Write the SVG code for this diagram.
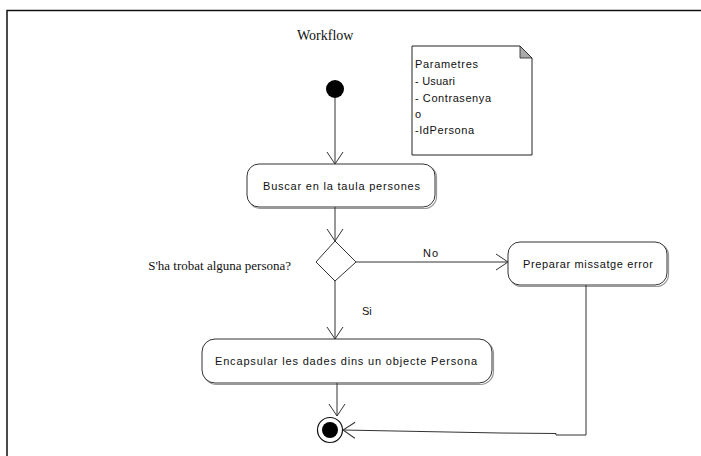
<svg xmlns="http://www.w3.org/2000/svg" width="701" height="456" viewBox="0 0 701 456">
  <style>
    .frame { fill: none; stroke: #111; stroke-width: 1.5; }
    .act { fill: #fff; stroke: #333; stroke-width: 1; }
    .shadow { fill: none; stroke: #999; stroke-width: 1.2; }
    .edge { fill: none; stroke: #333; stroke-width: 1; }
    .lbl { font-family: "Liberation Sans", Arial, sans-serif; font-size: 11px; fill: #111; }
    .ser { font-family: "Liberation Serif", "Times New Roman", serif; fill: #111; }
  </style>
  <defs>
    <marker id="open" viewBox="-14 -10 16 20" markerWidth="16" markerHeight="20" refX="0" refY="0" orient="auto" markerUnits="userSpaceOnUse">
      <path d="M -12 -8 L 0 0 L -12 8" fill="none" stroke="#333" stroke-width="1"/>
    </marker>
  </defs>

  <rect width="701" height="456" fill="#fff"/>
  <path class="frame" d="M 7 456 V 10.5 H 701"/>

  <text class="ser" x="297" y="40" font-size="14">Workflow</text>

  <g id="initial">
    <circle cx="335" cy="89" r="9" fill="#000"/>
  </g>

  <g id="note">
    <path d="M 412 46 H 520 L 532 58 V 155 H 412 Z" fill="#fff" stroke="#222" stroke-width="1"/>
    <path d="M 520 46 L 532 58 H 520 Z" fill="#aaa" stroke="#222" stroke-width="0.8"/>
    <text class="lbl" x="415" y="68" textLength="63">Parametres</text>
    <text class="lbl" x="415" y="85" textLength="40">- Usuari</text>
    <text class="lbl" x="415" y="102" textLength="76">- Contrasenya</text>
    <text class="lbl" x="415" y="118">o</text>
    <text class="lbl" x="415" y="134" textLength="59">-IdPersona</text>
  </g>

  <g id="buscar">
    <rect class="shadow" x="248.5" y="165.5" width="188" height="43" rx="12"/>
    <rect class="act" x="247" y="164" width="188" height="43" rx="12"/>
    <text class="lbl" x="263" y="190" textLength="157">Buscar en la taula persones</text>
  </g>

  <g id="decisio">
    <path d="M 335 241 L 356 262 L 335 281 L 316 262 Z" fill="#fff" stroke="#333" stroke-width="1"/>
    <text class="ser" x="291" y="270" font-size="13" text-anchor="end">S'ha trobat alguna persona?</text>
  </g>

  <g id="error">
    <rect class="shadow" x="509.5" y="243.5" width="159" height="43" rx="12"/>
    <rect class="act" x="508" y="242" width="159" height="43" rx="12"/>
    <text class="lbl" x="523" y="268" textLength="130">Preparar missatge error</text>
  </g>

  <g id="encapsular">
    <rect class="shadow" x="203.5" y="340.5" width="290" height="44" rx="13"/>
    <rect class="act" x="202" y="339" width="290" height="44" rx="13"/>
    <text class="lbl" x="215" y="365" textLength="262">Encapsular les dades dins un objecte Persona</text>
  </g>

  <g id="final">
    <circle cx="330" cy="430" r="12.5" fill="#fff" stroke="#111" stroke-width="1.2"/>
    <circle cx="330" cy="430" r="8" fill="#000"/>
  </g>

  <g id="connectors">
    <path class="edge" d="M 335 98 V 164" marker-end="url(#open)"/>
    <path class="edge" d="M 335 207 V 241" marker-end="url(#open)"/>
    <path class="edge" d="M 356 262 H 508" marker-end="url(#open)"/>
    <path class="edge" d="M 335 281 V 339" marker-end="url(#open)"/>
    <path class="edge" d="M 337 383 V 416" marker-end="url(#open)"/>
    <path class="edge" d="M 586 285 V 435 H 556 V 433.5 L 500 433 L 343 430" marker-end="url(#open)"/>
    <text class="lbl" x="423" y="257" textLength="15">No</text>
    <text class="lbl" x="362" y="315">Si</text>
  </g>
</svg>
